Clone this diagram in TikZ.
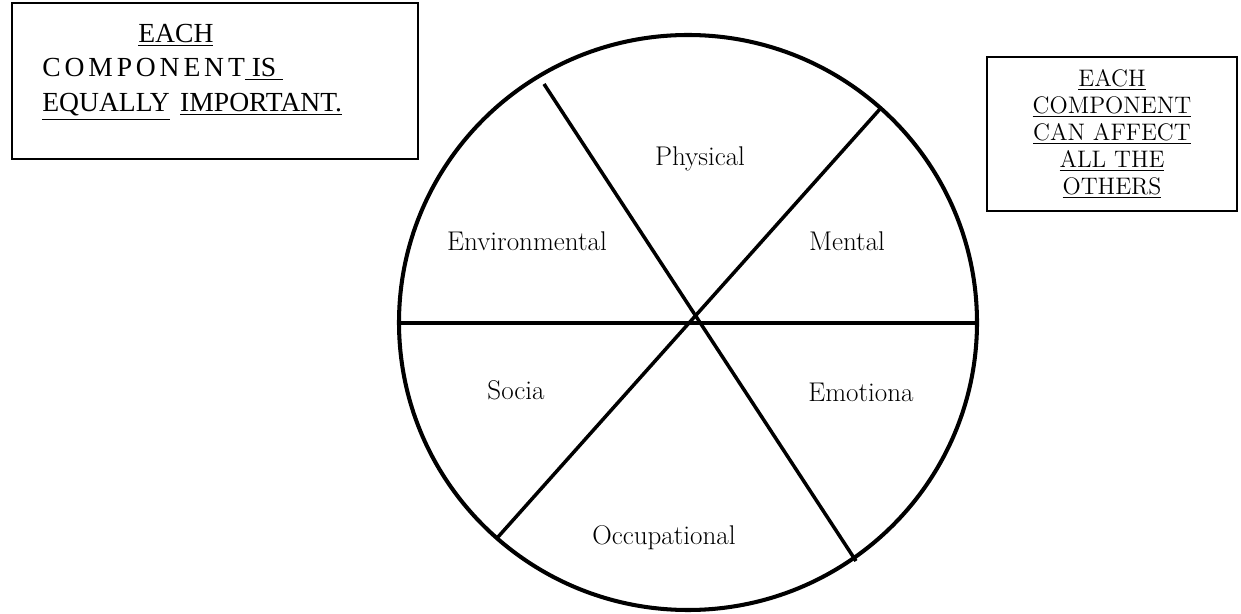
\documentclass[tikz,border=0pt]{standalone}
\usepackage{fontspec}
\usetikzlibrary{positioning}
\newfontfamily\notefont{Liberation Serif}
\newfontfamily\notefontwide{Liberation Serif}[LetterSpace=14]
\tikzset{
  rim/.style={line width=2.3pt},
  spoke/.style={line width=2pt},
  frame/.style={draw, line width=0.9pt},
  part/.style={font=\fontsize{15.4}{18}\selectfont, inner sep=0pt, anchor=base},
  note/.style={font=\notefont\fontsize{15.7}{19}\selectfont, inner sep=0pt, anchor=base west},
  rnote/.style={font=\fontsize{13.6}{15.4}\selectfont, align=center, inner sep=0pt}
}

\begin{document}
\begin{tikzpicture}[x=0.02cm, y=-0.02cm]
  \useasboundingbox (0,0) rectangle (1241,614);

  % Wheel rim
  \draw[rim] (688,322.5) ellipse [x radius=289, y radius=287.5];

  % Spoke end points on the rim
  \coordinate (W) at (399,323);
  \coordinate (E) at (977,323);
  \coordinate (NW) at (544,84);
  \coordinate (SE) at (856,561);
  \coordinate (NE) at (880,109);
  \coordinate (SW) at (498,537);

  % Spokes
  \draw[spoke] (W) -- (E);
  \draw[spoke] (NW) -- (SE);
  \draw[spoke] (NE) -- (SW);

  % Segment labels
  \node[part] (physical) at (700,166) {Physical};
  \node[part] (environmental) at (527,251) {Environmental};
  \node[part] (mental) at (847,251) {Mental};
  \node[part] (social) at (516,400) {Socia};
  \node[part] (emotional) at (861,402) {Emotiona};
  \node[part] (occupational) at (664,545) {Occupational};

  % Note on the left
  \draw[frame] (12,3) rectangle (418,159);
  \node[note] (each) at (138,43) {\underline{EACH}};
  \node[note] (component) at (42,77) {{\notefontwide COMPONENT}\underline{\ IS\ }};
  \node[note] (equally) at (42,112) {\underline{EQUALLY}\hspace{2pt} \underline{IMPORTANT.}};

  % Note on the right
  \draw[frame] (987,57) rectangle (1237,211);
  \node[rnote] (others) at (1112,134) {\underline{EACH}\\ \underline{COMPONENT}\\
    \underline{CAN AFFECT}\\ \underline{ALL THE}\\ \underline{OTHERS}};
\end{tikzpicture}
\end{document}
